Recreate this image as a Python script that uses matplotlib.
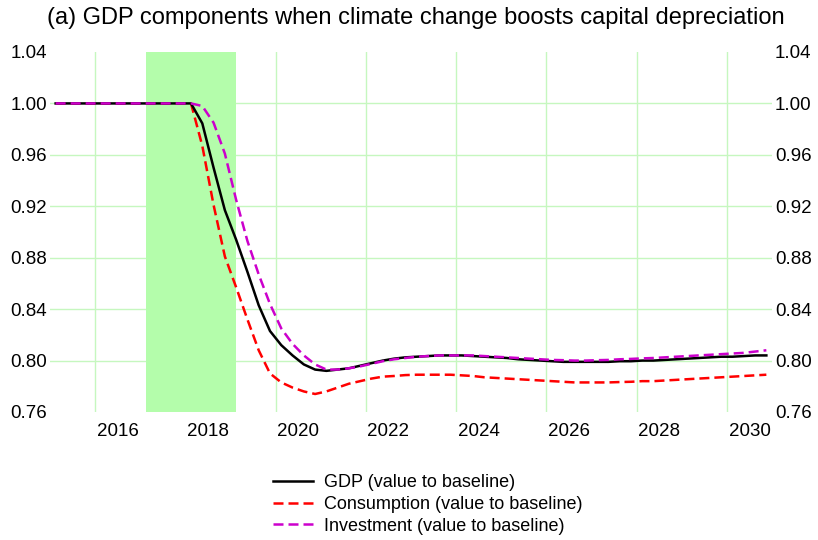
import numpy as np
import pandas as pd
import matplotlib
matplotlib.use('Agg')
import matplotlib.pyplot as plt

plt.rcParams['font.family'] = ['Liberation Sans', 'DejaVu Sans']

# quarterly data 2015Q1 - 2030Q4, values relative to baseline
quarters = pd.period_range('2015Q1', '2030Q4', freq='Q')

gdp = [1.0] * 13 + [
    0.9845, 0.950, 0.917, 0.894, 0.869, 0.843, 0.823, 0.812, 0.804, 0.797,
    0.793, 0.792, 0.793, 0.794, 0.796, 0.798, 0.800, 0.8015, 0.8025, 0.803,
    0.8035, 0.804, 0.804, 0.804, 0.8035, 0.803, 0.8025, 0.802, 0.801, 0.8005,
    0.800, 0.7995, 0.799, 0.799, 0.799, 0.799, 0.799, 0.7995, 0.7995, 0.800,
    0.800, 0.8005, 0.801, 0.8015, 0.802, 0.8025, 0.803, 0.803, 0.8035, 0.804,
    0.804]

consumption = [1.0] * 13 + [
    0.967, 0.921, 0.881, 0.857, 0.832, 0.808, 0.790, 0.783, 0.779, 0.776,
    0.774, 0.776, 0.779, 0.782, 0.784, 0.786, 0.7875, 0.788, 0.7887, 0.789,
    0.789, 0.789, 0.789, 0.7885, 0.788, 0.787, 0.7865, 0.786, 0.7855, 0.785,
    0.7845, 0.784, 0.7835, 0.783, 0.783, 0.783, 0.783, 0.7833, 0.7835, 0.784,
    0.784, 0.7845, 0.785, 0.7855, 0.786, 0.7865, 0.787, 0.7875, 0.788, 0.7885,
    0.789]

investment = [1.0] * 13 + [
    0.998, 0.985, 0.961, 0.925, 0.893, 0.867, 0.844, 0.825, 0.813, 0.804,
    0.797, 0.793, 0.793, 0.794, 0.7955, 0.7975, 0.7995, 0.801, 0.802, 0.803,
    0.8035, 0.804, 0.804, 0.804, 0.804, 0.8035, 0.803, 0.8025, 0.802, 0.8015,
    0.801, 0.8005, 0.8003, 0.800, 0.800, 0.8003, 0.8005, 0.801, 0.8013, 0.8017,
    0.802, 0.8025, 0.803, 0.8035, 0.804, 0.8045, 0.805, 0.8055, 0.806, 0.807,
    0.808]

shade_start, shade_end = '2017Q1', '2019Q1'
year_labels = list(range(2016, 2031, 2))
y_ticks = [0.76, 0.80, 0.84, 0.88, 0.92, 0.96, 1.00, 1.04]

title = '(a) GDP components when climate change boosts capital depreciation'

# quarter -> decimal year, at the middle of the quarter
def qpos(p):
    p = pd.Period(p, freq='Q')
    return p.year + (p.quarter - 1) / 4 + 0.125

t = [qpos(q) for q in quarters]

grid_col = '#c6f7bf'
shade_col = '#b4fdab'

fig = plt.figure(figsize=(8.18, 5.40), dpi=100)
ax = fig.add_axes([50 / 818, 1 - 412 / 540, 722 / 818, 360 / 540])

ax.axvspan(qpos(shade_start), qpos(shade_end), color=shade_col, lw=0, zorder=1)

l1, = ax.plot(t, gdp, color='black', lw=1.8, zorder=3,
              label='GDP (value to baseline)')
l2, = ax.plot(t, consumption, color='#ff0000', lw=1.8, dashes=(4, 2), zorder=2,
              label='Consumption (value to baseline)')
l3, = ax.plot(t, investment, color='#cc00cc', lw=1.8, dashes=(4, 2), zorder=4,
              label='Investment (value to baseline)')

ax.set_xlim(2015, 2031)
ax.set_ylim(0.76, 1.04)

# labels in the middle of the year, grid lines at the start
ax.set_xticks([y + 0.5 for y in year_labels])
ax.set_xticklabels([str(y) for y in year_labels])
ax.set_yticks(y_ticks)
ax.set_yticklabels(['%.2f' % v for v in y_ticks])

ax.grid(False)
for x in year_labels:
    ax.axvline(x, color=grid_col, lw=1, zorder=0)
for v in y_ticks[1:-1]:
    ax.axhline(v, color=grid_col, lw=1, zorder=0)

ax.tick_params(axis='both', which='both', length=0, labelsize=13.5)
ax.tick_params(axis='x', pad=8)
ax.tick_params(axis='y', pad=2, labelright=True, right=False)
for s in ax.spines.values():
    s.set_visible(False)

fig.text(0.508, 1 - 18 / 540, title, ha='center', va='center', fontsize=17)

fig.legend(handles=[l1, l2, l3], loc='upper left',
           bbox_to_anchor=(273 / 818, 1 - 474 / 540), frameon=False,
           fontsize=13, handlelength=2.2, handletextpad=0.65,
           labelspacing=0.27, borderpad=0, borderaxespad=0)

fig.savefig('out.png', dpi=100)
